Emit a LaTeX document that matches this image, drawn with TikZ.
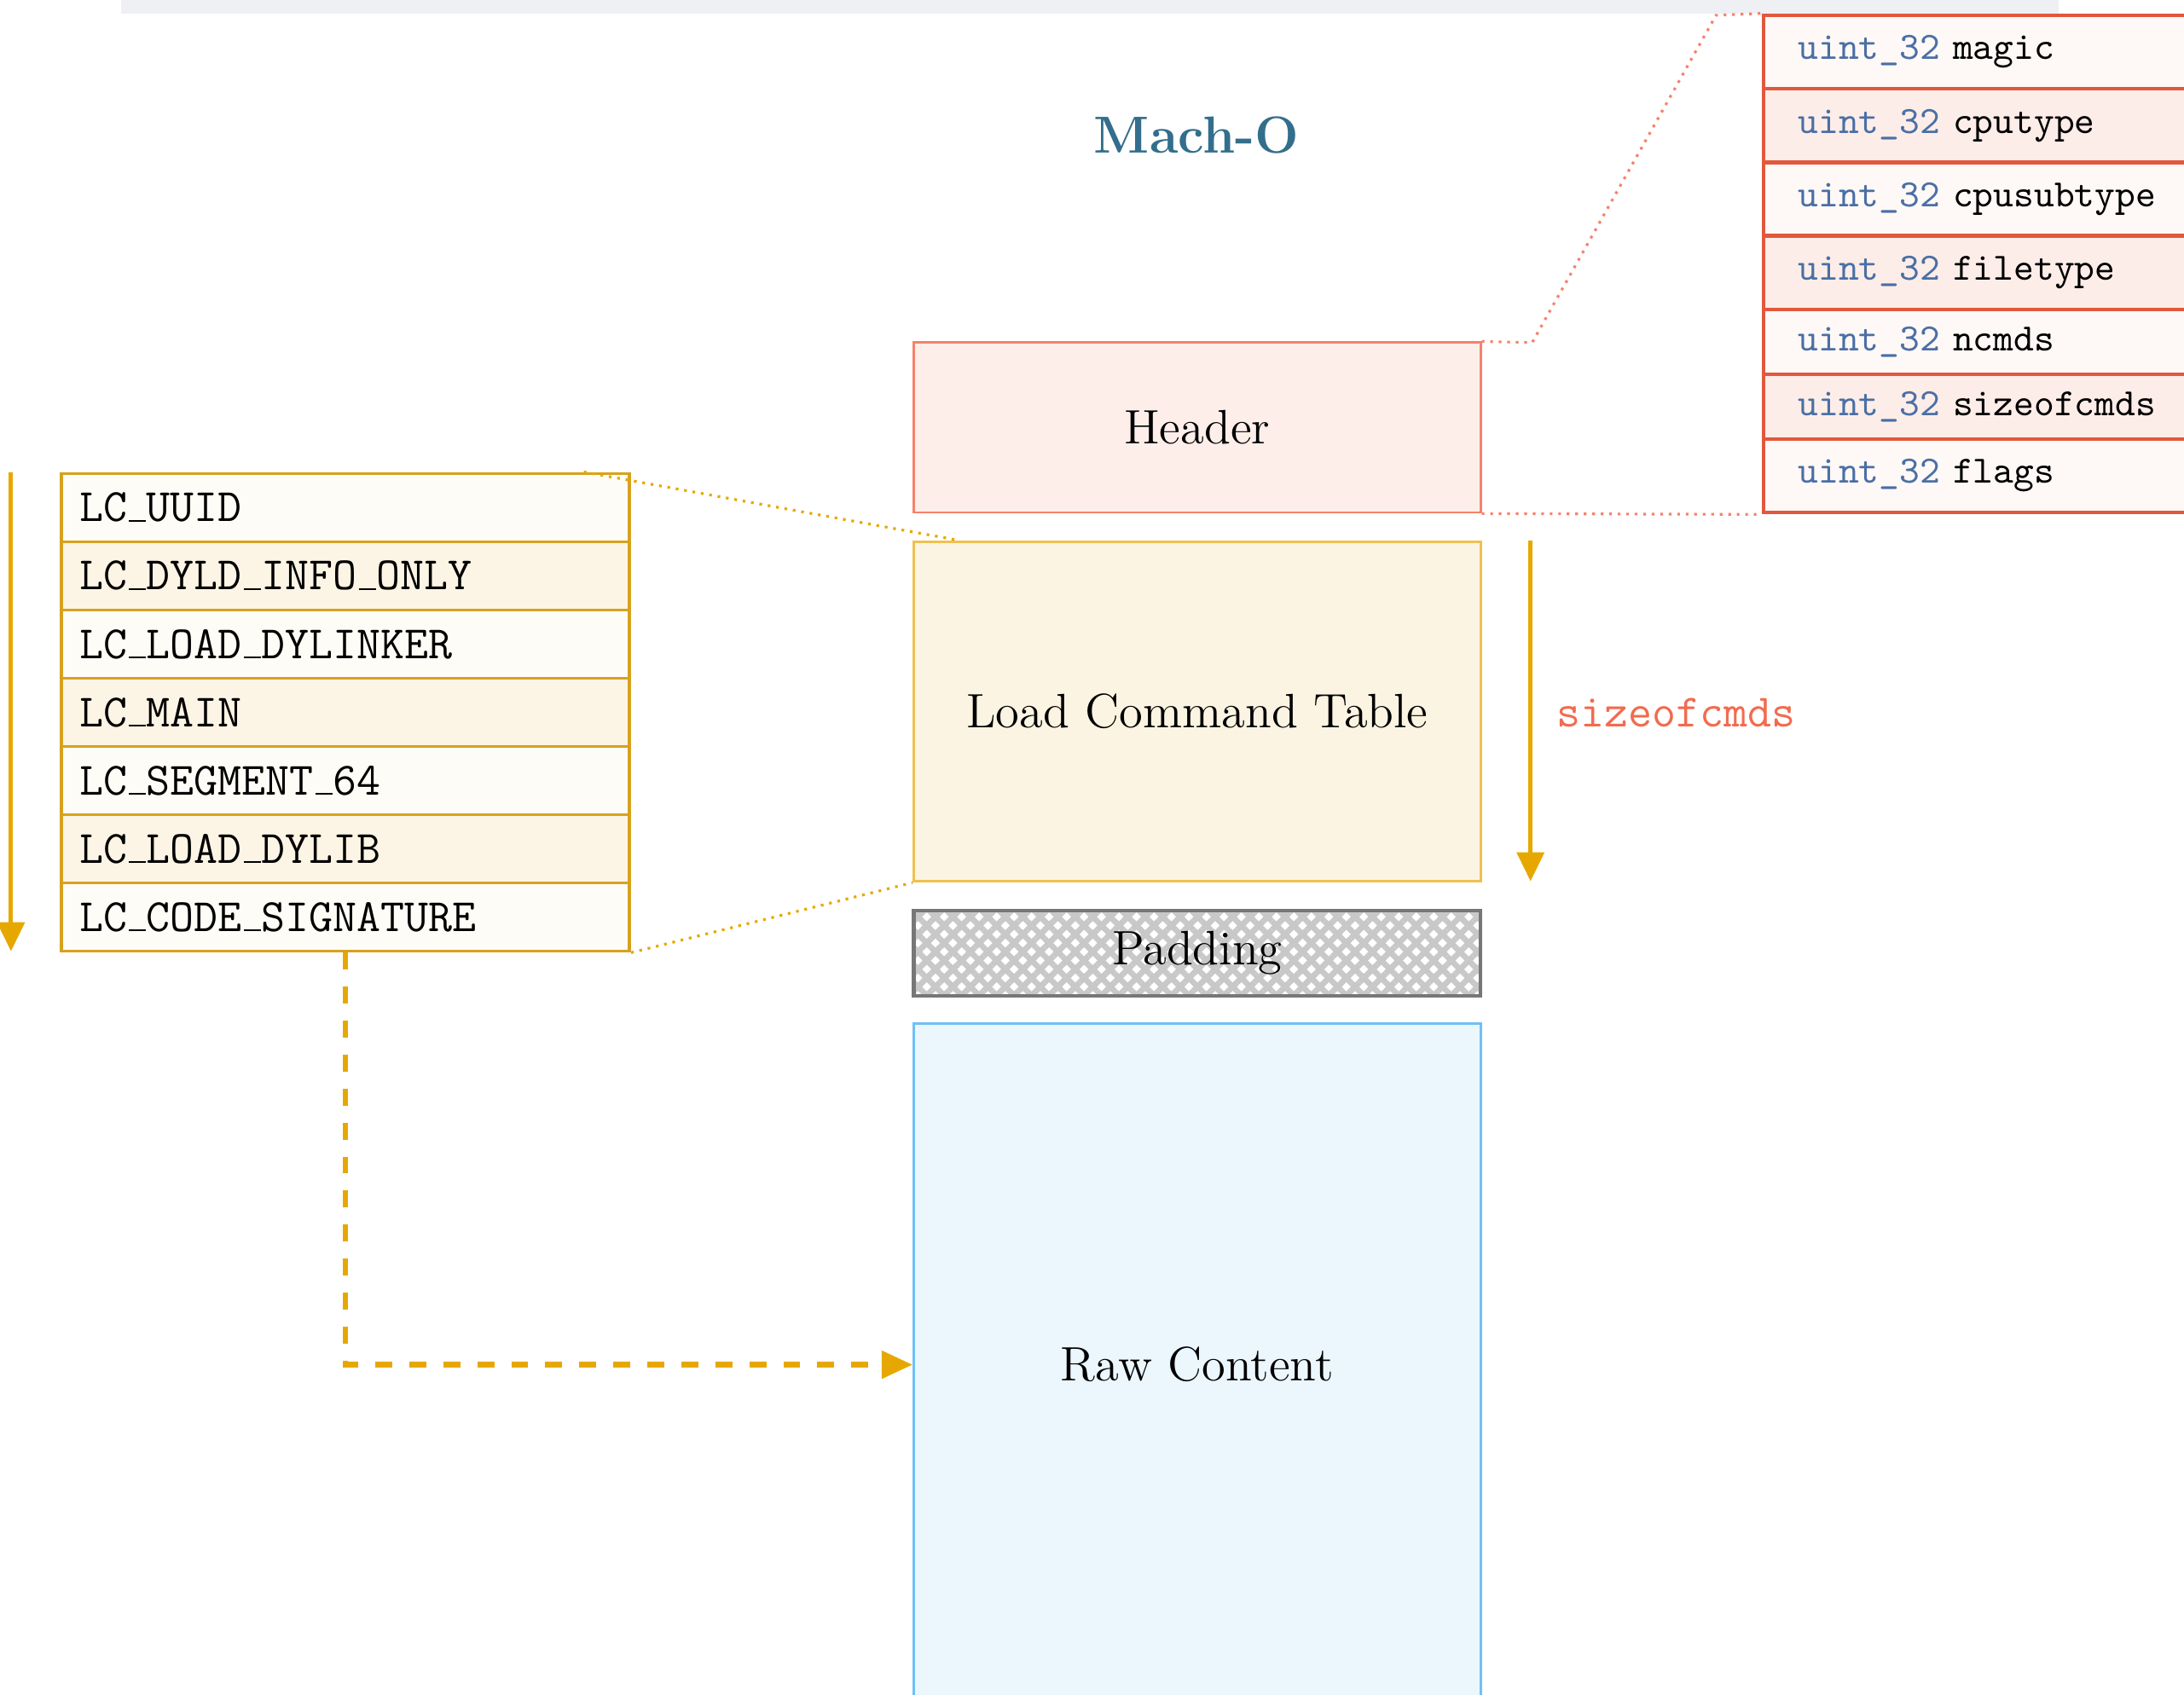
\documentclass[tikz,border=0pt]{standalone}
\usetikzlibrary{arrows.meta,patterns.meta,calc}

\definecolor{barbg}{HTML}{EEF0F4}
\definecolor{titleblue}{HTML}{336E8C}
\definecolor{hdrfill}{HTML}{FDEEEA}
\definecolor{hdrdraw}{HTML}{F5826A}
\definecolor{fldlight}{HTML}{FEF8F6}
\definecolor{flddark}{HTML}{FDEDE8}
\definecolor{flddraw}{HTML}{E2583C}
\definecolor{typeblue}{HTML}{4A6FA5}
\definecolor{lctfill}{HTML}{FBF4E2}
\definecolor{lctdraw}{HTML}{F0C050}
\definecolor{lclight}{HTML}{FEFCF6}
\definecolor{lcdark}{HTML}{FCF4E4}
\definecolor{lcdraw}{HTML}{D6A21E}
\definecolor{gold}{HTML}{E6A800}
\definecolor{sizered}{HTML}{F26B4F}
\definecolor{rawfill}{HTML}{EBF6FD}
\definecolor{rawdraw}{HTML}{70C0F5}
\definecolor{padgray}{HTML}{C8C8C8}
\definecolor{paddraw}{HTML}{777777}

\tikzset{
  seg/.style={draw, line width=0.6pt, minimum width=146.72pt, inner sep=0pt,
    font=\fontsize{12.5}{15}\selectfont},
  lcrow/.style={draw=lcdraw, line width=0.8pt, text width=137.71pt,
    inner xsep=4.69pt, inner ysep=0pt, minimum height=17.66pt, align=left,
    font=\fontsize{12}{14}\selectfont\ttfamily},
  lcodd/.style={lcrow, fill=lclight},
  lceven/.style={lcrow, fill=lcdark},
  fldrow/.style={draw=flddraw, line width=1pt, text width=102.38pt,
    inner xsep=9.01pt, inner ysep=0pt, align=left,
    font=\fontsize{10}{12}\selectfont\ttfamily},
  fldodd/.style={fldrow, fill=fldlight},
  fldeven/.style={fldrow, fill=flddark},
  goldarrow/.style={draw=gold, line width=1.1pt, -{Triangle[length=7.5pt,width=7pt]}},
  zoomline/.style={line width=0.7pt, dash pattern=on 0.7pt off 1.5pt}
}

\newcommand{\utype}{{\color{typeblue}uint\_32}}
% narrow rule-style underscore used in the command names
\newcommand{\lcus}{\leavevmode\kern.04em\vbox{\hrule width.36em height .45pt}\kern.02em}

\begin{document}
\begin{tikzpicture}[x=0.3605pt, y=-0.3605pt]
\useasboundingbox (0,0) rectangle (1568,1217);
\clip (0,0) rectangle (1568,1217);

% strip along the top edge
\fill[barbg] (87,-5) rectangle (1478,10);

% title
\node[font=\fontsize{13.5}{16}\selectfont\bfseries, text=titleblue] (title) at (859,97) {Mach-O};

% file layout
\node[seg, draw=hdrdraw, fill=hdrfill, minimum height=43.98pt] (header) at (859.5,307) {Header};
\node[seg, draw=lctdraw, fill=lctfill, minimum height=87.96pt] (lct) at (859.5,511) {Load Command Table};
\fill[white] (656,654) rectangle (1063,715);
\fill[pattern={Lines[angle=45,distance=3.2pt,line width=1.5pt]}, pattern color=padgray] (656,654) rectangle (1063,715);
\fill[pattern={Lines[angle=-45,distance=3.2pt,line width=1.5pt]}, pattern color=padgray] (656,654) rectangle (1063,715);
\node[seg, draw=paddraw, line width=0.9pt, minimum height=21.99pt] (pad) at (859.5,684.5) {Padding};
\node[seg, draw=rawdraw, fill=rawfill, minimum height=176.65pt] (raw) at (859.5,980) {Raw Content};

% header fields
\node[fldodd,  minimum height=19.03pt] (f1) at (1433,37.4)  {\utype{} magic};
\node[fldeven, minimum height=19.03pt] (f2) at (1433,90.2)  {\utype{} cputype};
\node[fldodd,  minimum height=19.03pt] (f3) at (1433,143.0) {\utype{} cpusubtype};
\node[fldeven, minimum height=19.03pt] (f4) at (1433,195.8) {\utype{} filetype};
\node[fldodd,  minimum height=16.80pt] (f5) at (1433,245.5) {\utype{} ncmds};
\node[fldeven, minimum height=16.80pt] (f6) at (1433,292.1) {\utype{} sizeofcmds};
\node[fldodd,  minimum height=18.96pt] (f7) at (1433,341.7) {\utype{} flags};

% load commands
\node[lcodd]  (r1) at (248,364.5) {LC\lcus UUID};
\node[lceven] (r2) at (248,413.5) {LC\lcus DYLD\lcus INFO\lcus ONLY};
\node[lcodd]  (r3) at (248,462.5) {LC\lcus LOAD\lcus DYLINKER};
\node[lceven] (r4) at (248,511.5) {LC\lcus MAIN};
\node[lcodd]  (r5) at (248,560.5) {LC\lcus SEGMENT\lcus 64};
\node[lceven] (r6) at (248,609.5) {LC\lcus LOAD\lcus DYLIB};
\node[lcodd]  (r7) at (248,658.5) {LC\lcus CODE\lcus SIGNATURE};

% zoom guides for the header
\coordinate (hk1) at (1100,246);
\coordinate (hk2) at (1232,11);
\draw[hdrdraw, zoomline] (header.north east) -- (hk1) -- (hk2) -- (f1.north west);
\draw[hdrdraw, zoomline] (header.south east) -- (f7.south west);

% zoom guides for the load commands
\draw[gold, zoomline] ($(r1.north east)+(-34,0)$) -- ($(lct.north west)+(34,0)$);
\draw[gold, zoomline] (r7.south east) -- (lct.south west);

% command order
\coordinate (ordtop) at ($(r1.north west)+(-35,0)$);
\coordinate (ordbot) at ($(r7.south west)+(-35,-1)$);
\draw[goldarrow] (ordtop) -- (ordbot);

% size of the command table
\coordinate (sztop) at ($(lct.north east)+(35,0)$);
\coordinate (szbot) at ($(lct.south east)+(35,-1)$);
\draw[goldarrow] (sztop) -- (szbot);
\node[anchor=west, inner sep=0pt, text=sizered, font=\fontsize{12}{14}\selectfont\ttfamily] (szlbl) at (1117,512) {sizeofcmds};

% code signature points into the raw content
\draw[draw=gold, line width=1.4pt, dash pattern=on 4.4pt off 4.4pt,
  -{Triangle[length=8pt,width=7pt]}] (r7.south) |- (raw.west);
\end{tikzpicture}
\end{document}
